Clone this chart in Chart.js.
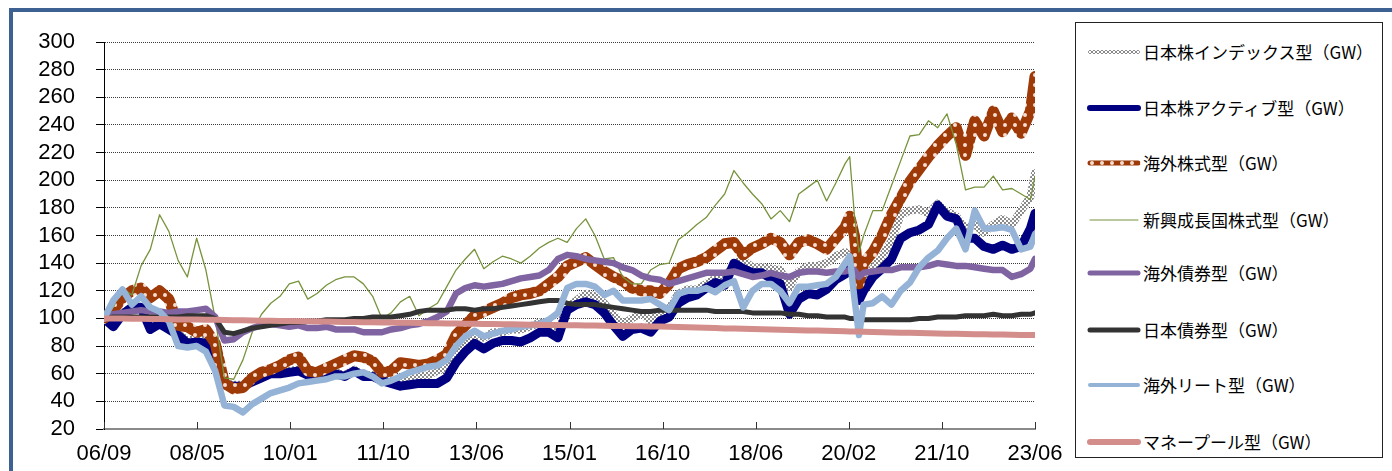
<!DOCTYPE html>
<html><head><meta charset="utf-8">
<script src="https://cdn.jsdelivr.net/npm/chart.js@4.4.0/dist/chart.umd.min.js"></script>
<style>
html,body{margin:0;padding:0;background:#fff;}
#wrap{position:relative;width:1392px;height:471px;overflow:hidden;background:#fff;}
#c{position:absolute;left:0;top:0;}
#frame{position:absolute;left:9px;top:8px;width:1400px;height:480px;border-top:4px solid #3D6192;border-left:4px solid #3D6192;}
#legend{position:absolute;left:1075px;top:22px;width:306px;height:434px;border:1px solid #222;background:#fff;}
.item{position:absolute;left:0;height:30px;width:300px;}
.item canvas{position:absolute;left:11px;top:0;}
.item span{position:absolute;left:67px;top:0;line-height:30px;font-size:17px;font-family:"Noto Sans CJK JP";white-space:nowrap;color:#000;}
</style></head>
<body>
<div id="wrap">
<canvas id="c" width="1392" height="471"></canvas>
<div id="frame"></div>
<div id="legend"></div>
</div>
<script>
// ---- data ----
const xLabels = ['06/09','08/05','10/01','11/10','13/06','15/01','16/10','18/06','20/02','21/10','23/06'];
const months = [0,2,4,6,8,10,12,14,16,18,20,22,24,26,28,30,32,34,36,38,40,42,44,46,48,50,52,54,56,58,60,62,64,66,68,70,72,74,76,78,80,82,84,86,88,90,92,94,96,98,100,102,104,106,108,110,112,114,116,118,120,122,124,126,128,130,132,134,136,138,140,142,144,146,148,150,152,154,156,158,160,161,162,163,164,166,168,170,172,174,176,178,180,182,184,186,188,190,192,194,196,198,200,201];

const jpIndex = [100,96,104,108,108,93,97,93,89,84, 85,84,72,53,52,52,55,58,61,61, 62,63,60,61,60,61,59,63,59,59, 56,55,54,56,58,59,62,65,75,82, 88,86,90,90,92,92,94,97,96,92, 108,113,118,116,111,103,96,100,104,98, 104,107,118,121,121,125,129,128,140,142, 137,137,136,135,123,134,138,138,140,145, 148,145,135,118,128,136,145,156,175,178, 179,176,183,177,174,165,168,162,168,172, 168,178,188,205];
const jpActive = [100,94,103,108,108,92,96,92,88,82, 83,82,70,52,51,51,54,57,60,60, 61,62,59,60,59,60,58,62,58,58, 55,53,51,52,53,53,53,57,68,76, 82,78,82,84,84,83,86,90,90,86, 106,110,112,110,104,95,87,92,93,90, 98,101,111,115,117,122,126,124,140,136, 133,133,129,125,103,114,118,117,121,128, 132,138,130,113,120,130,136,143,158,162, 164,168,182,174,172,158,158,152,150,153, 150,152,165,176];
const foreignStock = [100,106,115,120,122,115,120,114,95,94, 90,92,82,53,49,50,57,61,63,66, 70,72,62,61,64,67,70,73,72,69, 61,62,68,67,66,67,70,74,88,95, 102,105,108,111,115,117,118,120,125,130, 138,141,144,139,134,130,127,122,120,120, 118,125,136,139,141,144,149,154,155,146, 151,154,158,155,146,155,157,154,150,158, 166,174,160,125,140,148,160,175,187,199, 208,217,225,232,238,218,243,232,250,235, 245,234,250,275];
const emerging = [100,108,122,117,138,150,175,163,142,130, 158,135,100,57,56,70,90,103,111,116, 125,127,114,118,124,128,130,130,125,116, 100,104,112,116,102,107,111,123,135,143, 150,136,141,145,143,140,145,151,155,158, 155,165,172,160,143,144,130,125,125,135, 139,140,157,162,168,173,182,190,207,198, 190,183,172,178,170,190,195,200,185,198, 212,217,175,148,160,178,178,196,214,232, 233,243,238,248,226,193,195,195,203,193, 194,190,186,203];
const foreignBond = [100,103,104,105,106,105,105,104,105,105, 106,107,101,84,85,90,93,95,96,95, 94,95,93,93,94,92,92,92,90,90, 90,92,93,95,96,98,101,105,118,122, 124,123,124,125,127,129,130,131,135,143, 146,145,143,142,141,140,137,135,131,129, 128,125,127,129,131,133,133,133,134,132, 130,131,133,131,130,133,134,134,133,134, 134,135,135,130,133,134,135,135,137,137, 137,138,140,139,138,138,137,136,135,135, 130,132,136,143];
const jpBond = [100,101,101,101,101,101,101,101,101,102, 102,102,100,90,89,91,93,94,95,96, 97,97,98,98,99,99,99,100,100,101, 101,101,102,103,105,106,106,106,107,107, 106,107,107,108,109,110,111,112,113,113, 111,110,110,110,109,108,107,106,105,105, 106,106,106,106,106,106,105,105,105,105, 104,104,104,104,103,103,102,102,101,101, 101,100,100,99,99,99,99,99,99,99, 100,100,101,101,101,102,102,102,103,102, 102,103,103,104];
const foreignReit = [100,113,121,110,116,108,105,98,80,79, 80,76,62,37,36,32,38,42,46,48, 50,53,54,55,56,58,58,60,61,58, 53,55,58,61,63,65,66,70,80,87, 91,87,89,91,92,94,95,96,99,104, 122,125,125,123,117,120,113,113,113,114, 110,106,118,120,120,122,119,124,127,108, 120,125,125,120,111,123,123,124,125,130, 140,145,115,88,110,111,116,110,120,126, 137,144,149,158,165,150,178,165,165,166, 164,150,152,161];
const moneyPool = [100,100,99.9,99.8,99.7,99.6,99.5,99.4,99.3,99.2, 99.2,99.1,99,98.9,98.7,98.6,98.5,98.4,98.3,98.2, 98.1,98,97.9,97.8,97.7,97.6,97.5,97.4,97.3,97.2, 97.1,97,96.9,96.8,96.7,96.6,96.5,96.4,96.3,96.2, 96.1,96,95.9,95.8,95.7,95.6,95.5,95.4,95.3,95.2, 95.1,95,94.9,94.8,94.7,94.6,94.5,94.4,94.3,94.2, 94.1,94,93.8,93.6,93.4,93.2,93,92.8,92.7,92.5, 92.3,92.1,92,91.8,91.7,91.5,91.3,91.2,91,90.9, 90.7,90.6,90.5,90.5,90.4,90.2,90,89.9,89.7,89.6, 89.4,89.3,89.1,89,88.9,88.7,88.6,88.5,88.4,88.3, 88.2,88.1,88,88];

// ---- styles ----
function dotPattern(){
  const c=document.createElement('canvas'); c.width=10; c.height=10;
  const g=c.getContext('2d'); g.fillStyle='#9E3A08'; g.fillRect(0,0,10,10);
  g.fillStyle='#F4DDD0'; g.beginPath(); g.arc(5,5,2,0,Math.PI*2); g.fill();
  return g.createPattern(c,'repeat');
}
function checkPattern(){
  const c=document.createElement('canvas'); c.width=4; c.height=4;
  const g=c.getContext('2d'); g.fillStyle='#8A8A8A'; g.fillRect(0,0,4,4);
  g.fillStyle='#FFFFFF'; g.fillRect(0,0,2,2); g.fillRect(2,2,2,2);
  return g.createPattern(c,'repeat');
}
const dotPat=dotPattern(), chkPat=checkPattern();
const pts = arr => months.map((m,i)=>({x:m,y:arr[i]}));
const tickPos = xLabels.map((_,i)=> i*201/10);

// legend order (top to bottom)
const series = [
  {label:'日本株インデックス型（GW）', data:jpIndex, color:chkPat, w:8, lw:4},
  {label:'日本株アクティブ型（GW）', data:jpActive, color:'#000080', w:9, lw:6},
  {label:'海外株式型（GW）', data:foreignStock, color:dotPat, w:11, lw:5},
  {label:'新興成長国株式型（GW）', data:emerging, color:'#77933C', w:1.3, lw:1},
  {label:'海外債券型（GW）', data:foreignBond, color:'#8064A2', w:6.5, lw:5},
  {label:'日本債券型（GW）', data:jpBond, color:'#333333', w:5, lw:5},
  {label:'海外リート型（GW）', data:foreignReit, color:'#95B3D7', w:6.5, lw:4},
  {label:'マネープール型（GW）', data:moneyPool, color:'#D38D8B', w:6, lw:6}
];

// Chart.js draws dataset 0 on top -> reverse so last legend item is on top
const datasets = series.slice().reverse().map(s=>({
  label:s.label, data:pts(s.data), borderColor:s.color, borderWidth:s.w,
  pointRadius:0, tension:0, borderJoinStyle:'round', borderCapStyle:'round', fill:false
}));

const xTickPlugin = {
  id:'xticksInside',
  beforeDatasetsDraw(chart){
    const s=chart.scales.x, c=chart.ctx;
    c.save(); c.strokeStyle='#333'; c.lineWidth=1;
    tickPos.forEach(v=>{ const x=Math.round(s.getPixelForValue(v))+0.5;
      c.beginPath(); c.moveTo(x,s.top); c.lineTo(x,s.top-7); c.stroke(); });
    c.restore();
  }
};

new Chart(document.getElementById('c'), {
  type:'line',
  data:{datasets},
  plugins:[xTickPlugin],
  options:{
    responsive:false, animation:false, devicePixelRatio:1,
    layout:{padding:{left:0,right:357,top:42,bottom:0}},
    plugins:{legend:{display:false}, tooltip:{enabled:false}},
    scales:{
      x:{type:'linear', min:0, max:201,
        afterBuildTicks:s=>{ s.ticks = tickPos.map(v=>({value:v})); },
        afterFit:s=>{ s.height=42; },
        ticks:{autoSkip:false, maxRotation:0, padding:12, color:'#000',
          font:{family:'Liberation Sans', size:22}, callback:(v,i)=>xLabels[i]},
        grid:{display:false, drawTicks:false},
        border:{display:true, color:'#8A8A8A', width:2}},
      y:{min:20, max:300,
        afterFit:s=>{ s.width=104; },
        ticks:{stepSize:20, autoSkip:false, padding:21, color:'#000', font:{family:'Liberation Sans', size:22}},
        grid:{color:'#3A3A3A', lineWidth:1, tickLength:8, tickColor:'#000', tickBorderDash:[]},
        border:{display:true, color:'#000', width:1, dash:[1,1]}}
    }
  }
});

// ---- legend ----
const centers=[29,85,140,197,250,307,362,419];
const leg=document.getElementById('legend');
series.forEach((s,i)=>{
  const d=document.createElement('div'); d.className='item'; d.style.top=(centers[i]-15)+'px';
  const cv=document.createElement('canvas'); cv.width=54; cv.height=30;
  const g=cv.getContext('2d'); g.strokeStyle=s.color; g.lineWidth=s.lw; g.lineCap='round';
  g.beginPath(); g.moveTo(3,15); g.lineTo(51,15); g.stroke();
  const sp=document.createElement('span'); sp.textContent=s.label;
  d.appendChild(cv); d.appendChild(sp); leg.appendChild(d);
});
</script>
</body></html>
